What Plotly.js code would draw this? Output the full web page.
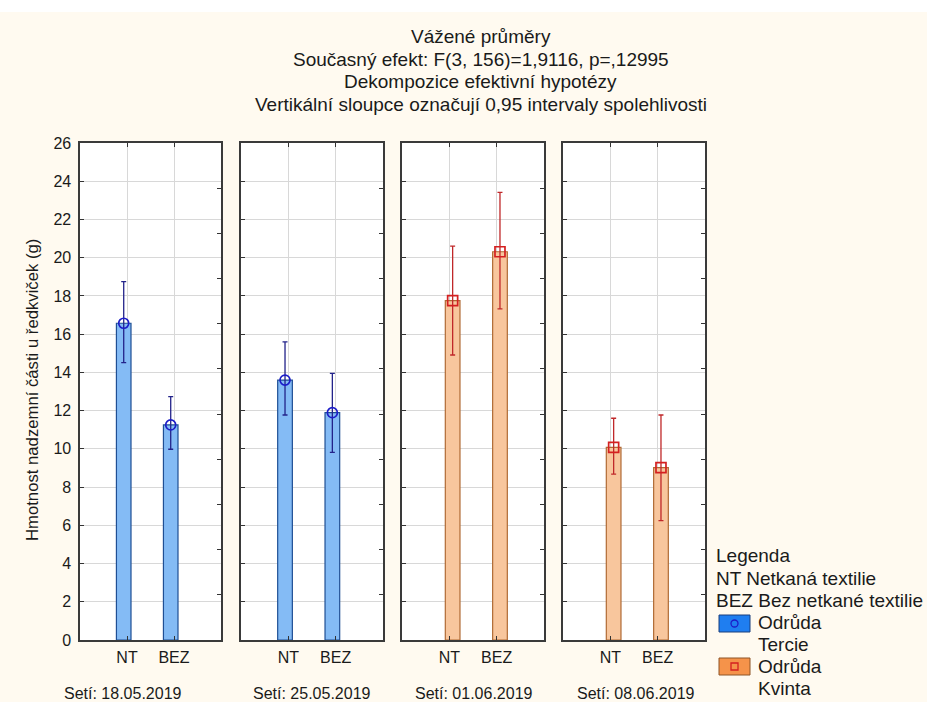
<!DOCTYPE html>
<html>
<head>
<meta charset="utf-8">
<script src="https://cdn.plot.ly/plotly-3.0.1.min.js"></script>
<style>html,body{margin:0;padding:0;background:#fffaf0;}#chart{width:927px;height:702px;}</style>
</head>
<body>
<div id="chart"></div>
<script>
// ---- data ----
const categories = ['NT', 'BEZ'];
const sowingDates = ['Setí: 18.05.2019', 'Setí: 25.05.2019', 'Setí: 01.06.2019', 'Setí: 08.06.2019'];
const panelVariety = ['Tercie', 'Tercie', 'Kvinta', 'Kvinta'];
const meanNT   = [16.57, 13.60, 17.75, 10.08];
const meanBEZ  = [11.25, 11.89, 20.31, 9.02];
const upperNT  = [18.75, 15.60, 20.61, 11.60];
const lowerNT  = [14.51, 11.77, 14.91, 8.68];
const upperBEZ = [12.73, 13.95, 23.42, 11.77];
const lowerBEZ = [9.98, 9.82, 17.32, 6.24];
const titleLines = ['Vážené průměry', 'Současný efekt: F(3, 156)=1,9116, p=,12995',
  'Dekompozice efektivní hypotézy', 'Vertikální sloupce označují 0,95 intervaly spolehlivosti'];
const yTitle = 'Hmotnost nadzemní části u ředkviček (g)';
const legendLines = ['Legenda', 'NT Netkaná textilie', 'BEZ Bez netkané textilie'];
const rightTickVals = [2.36, 4.73, 7.09, 9.45, 11.82, 14.18, 16.55, 18.91, 21.27, 23.64];

// ---- styles ----
const FONT = 'Liberation Sans, Arial, sans-serif';
const TXT = '#1a1a1a';
const style = {
  Tercie: {fill: '#84bbf5', line: '#1f4f94', err: '#23238a', marker: 'circle-open', mcolor: '#1c1cc8', offset: -0.225},
  Kvinta: {fill: '#f8c69d', line: '#b06a34', err: '#c0282a', marker: 'square-open', mcolor: '#d42020', offset: -0.085}
};
const BARW = 0.31;

const W = 927, H = 702, ML = 80, MR = 222, MT = 143, MB = 62;
const PW = W - ML - MR, PH = H - MT - MB;
const px2x = p => (p - ML) / PW;
const py2y = p => (H - MB - p) / PH;
const panelPx = [[80, 221], [241, 383], [402, 544], [563, 705]];

const traces = [];
const layout = {
  width: W, height: H,
  margin: {l: ML, r: MR, t: MT, b: MB, pad: 0},
  paper_bgcolor: '#fffaf0', plot_bgcolor: '#ffffff',
  showlegend: false,
  barmode: 'overlay',
  font: {family: FONT, color: TXT, size: 16},
  annotations: [], shapes: []
};

const sfx = n => (n === 1 ? '' : String(n));

for (let p = 0; p < 4; p++) {
  const n = p + 1;
  const xid = 'x' + sfx(n), yid = 'y' + sfx(n);
  const dom = [px2x(panelPx[p][0]), px2x(panelPx[p][1])];
  const v = panelVariety[p];
  const s = style[v];
  layout['xaxis' + sfx(n)] = {
    domain: dom, anchor: yid, type: 'category', categoryarray: categories,
    range: [-1, 2], showgrid: true, gridcolor: '#d8d8d8', gridwidth: 1,
    ticks: 'inside', ticklen: 4, tickwidth: 1, tickcolor: '#333',
    showline: true, linecolor: '#3a3a3a', linewidth: 1.6, mirror: 'ticks',
    zeroline: false, tickfont: {size: 16, color: TXT, family: FONT}, ticklabelstandoff: 2
  };
  layout['yaxis' + sfx(n)] = {
    domain: [0, 1], anchor: xid, range: [0, 26], tick0: 0, dtick: 2,
    showgrid: true, gridcolor: '#d8d8d8', gridwidth: 1,
    ticks: 'inside', ticklen: 4, tickwidth: 1, tickcolor: '#333',
    showline: true, linecolor: '#3a3a3a', linewidth: 1.6, mirror: true,
    zeroline: false, showticklabels: n === 1,
    tickfont: {size: 16, color: TXT, family: FONT}, ticklabelstandoff: 4
  };
  // right-side inner tick marks
  layout['yaxis' + (n + 4)] = {
    overlaying: yid, side: 'right', anchor: xid, range: [0, 26],
    tickvals: rightTickVals, ticks: 'inside', ticklen: 4, tickwidth: 1, tickcolor: '#333',
    showticklabels: false, showgrid: false, showline: false, zeroline: false
  };
  // hidden overlay x axis so the mean markers sit on the bar centres
  const shift = s.offset + BARW / 2;
  layout['xaxis' + (n + 4)] = {
    overlaying: xid, anchor: yid, type: 'category', categoryarray: categories,
    range: [-1 - shift, 2 - shift], visible: false
  };

  traces.push({
    type: 'bar', x: categories, y: [meanNT[p], meanBEZ[p]], xaxis: xid, yaxis: yid,
    width: BARW, offset: s.offset,
    marker: {color: s.fill, line: {color: s.line, width: 1.2}},
    error_y: {type: 'data', symmetric: false,
              array: [upperNT[p] - meanNT[p], upperBEZ[p] - meanBEZ[p]],
              arrayminus: [meanNT[p] - lowerNT[p], meanBEZ[p] - lowerBEZ[p]],
              color: s.err, thickness: 1.3, width: 2.5},
    hoverinfo: 'skip'
  });
  traces.push({
    type: 'scatter', mode: 'markers',
    x: categories, y: [meanNT[p], meanBEZ[p]],
    xaxis: 'x' + (n + 4), yaxis: yid,
    marker: {symbol: s.marker, size: 10, color: s.mcolor, line: {width: 1.7, color: s.mcolor}},
    hoverinfo: 'skip'
  });
  // invisible trace so the right tick axis is drawn
  traces.push({type: 'scatter', mode: 'none', x: [categories[0]], y: [null],
    xaxis: xid, yaxis: 'y' + (n + 4), hoverinfo: 'skip'});
}

// title lines
const titleY = [37, 60, 82, 104];
titleLines.forEach((t, i) => layout.annotations.push({
  text: t, xref: 'paper', yref: 'paper', x: px2x(481), y: py2y(titleY[i]),
  xanchor: 'center', yanchor: 'middle', showarrow: false,
  font: {size: 19, family: FONT, color: TXT}
}));
// y-axis title
layout.annotations.push({
  text: yTitle, xref: 'paper', yref: 'paper', x: px2x(32), y: py2y(390),
  xanchor: 'center', yanchor: 'middle', textangle: -90, showarrow: false,
  font: {size: 16.7, family: FONT, color: TXT}
});
// sowing date labels
const dateX = [123, 312, 474, 636];
sowingDates.forEach((t, i) => layout.annotations.push({
  text: t, xref: 'paper', yref: 'paper', x: px2x(dateX[i]), y: py2y(693),
  xanchor: 'center', yanchor: 'middle', showarrow: false,
  font: {size: 16, family: FONT, color: TXT}
}));
// legend text
const legY = [555, 578, 600];
legendLines.forEach((t, i) => layout.annotations.push({
  text: t, xref: 'paper', yref: 'paper', x: px2x(714), y: py2y(legY[i]),
  xanchor: 'left', yanchor: 'middle', showarrow: false,
  font: {size: 19, family: FONT, color: TXT}
}));
const varLines = [['Odrůda', 622], ['Tercie', 644], ['Odrůda', 666], ['Kvinta', 688]];
varLines.forEach(([t, y]) => layout.annotations.push({
  text: t, xref: 'paper', yref: 'paper', x: px2x(756), y: py2y(y),
  xanchor: 'left', yanchor: 'middle', showarrow: false,
  font: {size: 19, family: FONT, color: TXT}
}));
// legend swatches
const sw = [
  {cy: 623.5, fill: '#1f7ef0', line: '#1b3f7c', inner: 'circle', ic: '#1c1cc8'},
  {cy: 666.5, fill: '#f5934a', line: '#8e5426', inner: 'rect', ic: '#d42020'}
];
sw.forEach(s => {
  layout.shapes.push({type: 'rect', xref: 'paper', yref: 'paper', xsizemode: 'pixel', ysizemode: 'pixel',
    xanchor: px2x(734.5), yanchor: py2y(s.cy), x0: -15.5, x1: 15.5, y0: -8.5, y1: 8.5,
    fillcolor: s.fill, line: {color: s.line, width: 1}});
  layout.shapes.push({type: s.inner, xref: 'paper', yref: 'paper', xsizemode: 'pixel', ysizemode: 'pixel',
    xanchor: px2x(734.5), yanchor: py2y(s.cy), x0: -3.5, x1: 3.5, y0: -3.5, y1: 3.5,
    fillcolor: 'rgba(0,0,0,0)', line: {color: s.ic, width: 1.3}});
});
// white strip at very top
layout.shapes.push({type: 'rect', xref: 'paper', yref: 'paper', layer: 'below',
  x0: px2x(0), x1: px2x(W), y0: py2y(12), y1: py2y(0), fillcolor: '#ffffff', line: {width: 0}});

Plotly.newPlot('chart', traces, layout, {staticPlot: true, displayModeBar: false});
</script>
</body>
</html>
